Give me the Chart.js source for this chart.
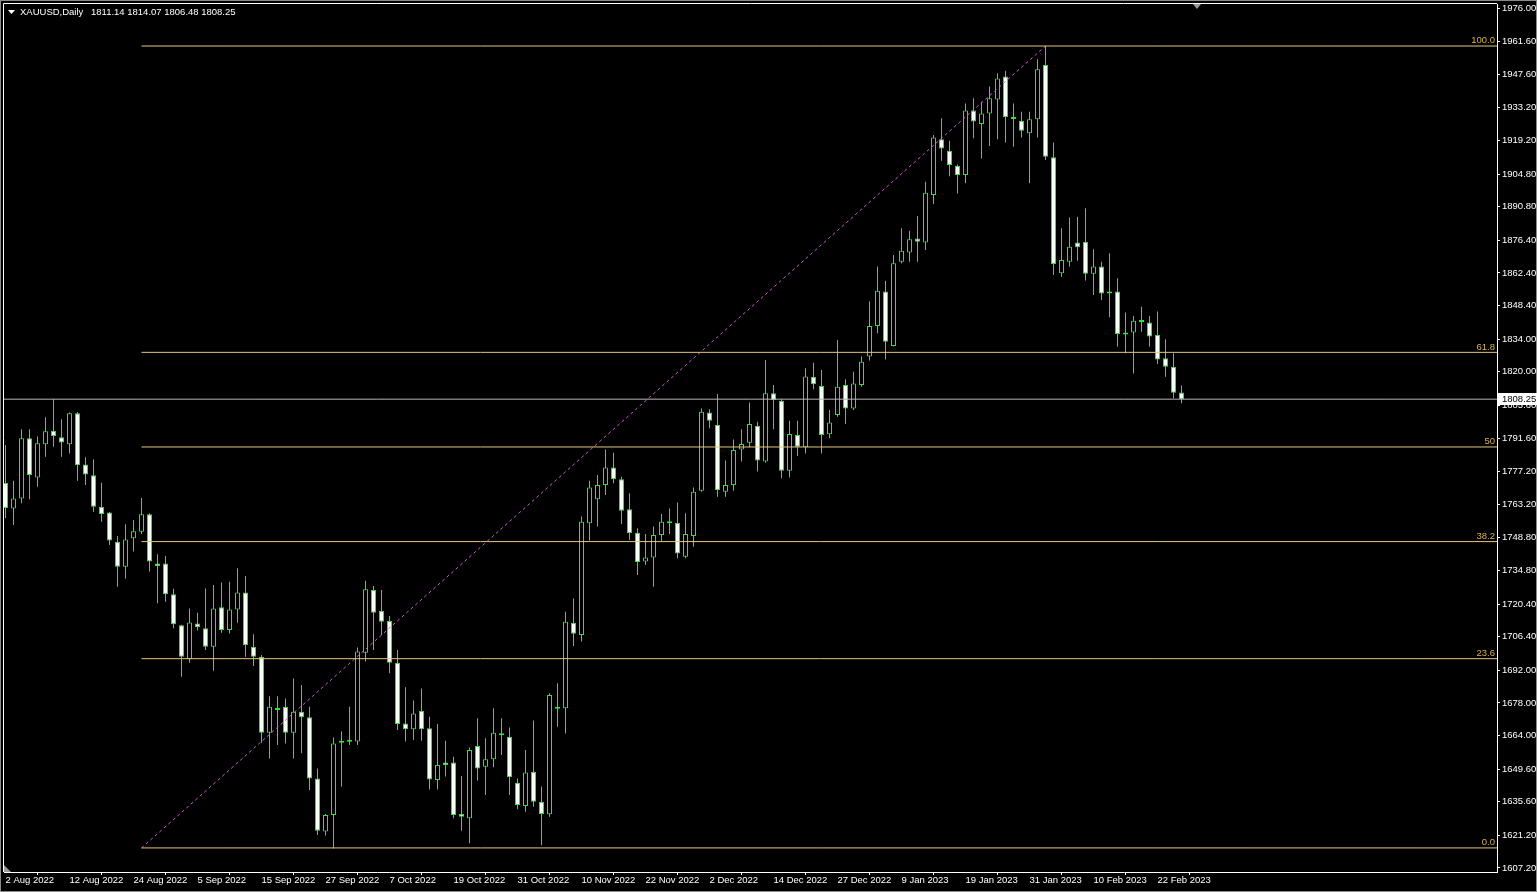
<!DOCTYPE html>
<html>
<head>
<meta charset="utf-8">
<script src="https://cdn.jsdelivr.net/npm/chart.js@4.4.0/dist/chart.umd.min.js"></script>
<style>
html,body{margin:0;padding:0;background:#000;overflow:hidden}
#wrap{width:1537px;height:892px}
</style>
</head>
<body>
<div id="wrap"><canvas id="price_chart" width="1537" height="892"></canvas></div>
<script>

// XAUUSD daily bars, 2 Aug 2022 .. 27 Feb 2023 (index = bar number)
let open_p=[
1772.3,1761.4,1765.7,1791.5,1774.7,1788.9,1794.7,1791.9,1788.9,1802.2,
1780.2,1775.6,1762.1,1759.6,1747.1,1736.4,1748.6,1751.4,1758.9,1737.8,
1737.8,1724.6,1711.3,1696.7,1712.1,1710.0,1702.1,1719.0,1709.3,1718.1,
1725.3,1702.1,1697.8,1665.2,1675.7,1676.4,1665.2,1674.2,1671.8,1645.6,
1622.8,1629.9,1660.9,1661.3,1661.4,1699.5,1726.4,1717.5,1713.1,1695.2,
1669.2,1666.7,1674.5,1667.1,1644.9,1652.4,1652.4,1630.4,1628.5,1659.5,
1650.6,1653.8,1664.4,1663.5,1643.8,1633.8,1648.5,1635.6,1630.2,1675.7,
1675.7,1712.4,1707.1,1755.0,1765.3,1771.4,1779.0,1773.9,1761.0,1751.0,
1738.6,1740.4,1750.0,1755.0,1755.3,1740.7,1749.6,1769.0,1802.5,1797.2,
1768.6,1771.4,1786.7,1789.6,1796.8,1781.5,1810.8,1807.6,1777.6,1792.9,
1787.6,1817.9,1813.9,1793.2,1801.5,1814.3,1804.3,1814.3,1826.5,1839.6,
1854.4,1831.1,1867.2,1871.1,1877.2,1875.4,1895.8,1919.7,1914.8,1908.4,
1904.4,1932.0,1926.3,1930.8,1936.8,1946.6,1928.6,1927.7,1922.3,1928.3,
1951.6,1912.0,1862.2,1867.2,1875.4,1875.8,1862.0,1865.1,1854.4,1854.4,
1836.3,1836.8,1841.5,1841.1,1835.8,1825.8,1822.2,1811.14];

let high_p=[
1788.6,1773.3,1795.3,1795.3,1792.2,1800.5,1808.2,1799.6,1802.5,1802.7,
1783.3,1782.4,1772.4,1759.9,1749.6,1754.6,1756.4,1765.9,1759.3,1741.8,
1741.0,1727.0,1711.5,1718.5,1716.7,1727.1,1728.6,1729.6,1730.0,1735.7,
1732.4,1707.4,1698.5,1680.9,1680.9,1679.9,1688.5,1685.7,1676.4,1649.9,
1630.3,1663.2,1665.7,1676.4,1701.8,1730.4,1728.1,1726.4,1715.3,1700.7,
1684.7,1679.0,1684.2,1672.1,1668.9,1661.8,1654.9,1646.7,1658.9,1671.4,
1662.8,1675.7,1671.4,1667.5,1645.6,1657.8,1670.4,1642.1,1682.1,1686.4,
1717.1,1722.8,1757.9,1773.3,1775.7,1786.7,1785.3,1775.0,1767.9,1752.9,
1750.4,1753.6,1759.0,1761.4,1763.9,1759.3,1770.4,1804.3,1803.9,1810.5,
1781.9,1791.0,1795.3,1806.8,1798.6,1825.0,1814.3,1808.2,1799.0,1799.0,
1821.5,1823.9,1820.8,1803.6,1833.6,1816.8,1820.0,1826.5,1850.1,1865.1,
1859.0,1870.1,1881.5,1880.5,1886.8,1901.5,1921.5,1928.7,1919.1,1908.9,
1935.1,1937.3,1935.8,1942.3,1948.0,1949.1,1935.1,1931.5,1931.5,1954.0,
1959.7,1918.3,1881.5,1886.2,1886.5,1890.1,1872.5,1867.2,1870.8,1860.1,
1845.4,1843.9,1847.9,1843.9,1845.8,1833.9,1827.9,1814.07];

let low_p=[
1757.3,1754.3,1763.6,1765.3,1770.7,1783.6,1787.9,1783.6,1785.0,1773.3,
1771.4,1760.0,1755.7,1745.7,1727.8,1731.4,1742.9,1750.4,1734.3,1720.7,
1721.4,1710.0,1689.2,1695.2,1709.0,1700.7,1691.8,1708.1,1707.8,1712.4,
1697.8,1693.8,1660.9,1654.2,1659.9,1660.6,1654.2,1656.4,1640.6,1621.3,
1621.1,1615.6,1642.1,1659.9,1659.9,1695.7,1700.7,1707.1,1690.7,1666.4,
1661.4,1662.1,1661.8,1640.9,1640.9,1646.4,1628.5,1623.2,1617.8,1644.7,
1638.5,1650.4,1655.7,1638.5,1632.4,1631.3,1633.5,1617.0,1629.2,1667.8,
1664.9,1702.4,1704.3,1747.6,1753.6,1767.2,1772.2,1754.7,1747.9,1732.8,
1737.1,1727.8,1747.1,1750.4,1740.0,1740.0,1745.0,1768.6,1795.8,1766.4,
1766.4,1769.0,1781.5,1787.6,1777.2,1781.0,1795.3,1774.3,1774.7,1783.9,
1785.0,1812.5,1785.0,1791.5,1800.7,1797.6,1803.6,1813.6,1824.8,1836.5,
1825.3,1830.8,1866.5,1867.2,1867.2,1872.2,1891.9,1910.5,1903.9,1896.5,
1900.8,1920.1,1911.5,1916.8,1919.7,1918.3,1916.5,1920.5,1900.8,1920.5,
1910.8,1861.5,1860.8,1865.1,1867.6,1859.1,1852.9,1850.8,1843.4,1830.8,
1827.9,1819.3,1837.2,1830.8,1823.3,1817.9,1808.6,1806.48];

let close_p=[
1761.6,1765.7,1791.5,1775.7,1789.3,1794.5,1792.5,1789.7,1802.2,1779.9,
1776.0,1762.1,1759.0,1747.6,1736.4,1748.1,1751.6,1758.9,1738.6,1736.7,
1724.6,1711.7,1697.8,1712.5,1710.4,1702.1,1718.5,1709.3,1718.1,1725.3,
1702.7,1697.8,1665.2,1676.4,1675.0,1665.2,1674.2,1671.8,1645.6,1623.2,
1629.9,1660.6,1661.2,1661.6,1700.0,1726.7,1716.7,1712.8,1695.2,1668.9,
1666.7,1673.5,1666.7,1645.2,1651.4,1651.4,1629.9,1629.2,1657.8,1649.9,
1653.8,1665.2,1664.1,1646.1,1634.2,1648.1,1635.6,1630.3,1681.4,1675.5,
1712.8,1707.6,1755.7,1770.4,1771.4,1779.0,1773.9,1760.4,1750.7,1738.4,
1740.4,1750.0,1755.7,1755.2,1742.1,1750.4,1768.6,1802.9,1799.0,1769.3,
1771.4,1786.5,1789.0,1797.6,1781.9,1810.8,1807.9,1777.6,1793.3,1787.9,
1818.0,1814.6,1792.9,1798.2,1813.6,1804.3,1815.0,1824.3,1839.6,1854.8,
1832.9,1866.5,1871.9,1876.8,1875.8,1896.8,1920.5,1915.8,1908.7,1904.4,
1932.0,1927.3,1930.8,1937.3,1945.8,1929.1,1928.4,1923.4,1928.3,1949.7,
1912.2,1866.2,1867.9,1873.6,1873.4,1862.0,1865.1,1853.6,1853.6,1836.2,
1836.0,1841.9,1841.3,1835.1,1825.3,1822.2,1811.0,1808.25];

// time axis labels, one every 8 bars
let date_labels=["2 Aug 2022","12 Aug 2022","24 Aug 2022","5 Sep 2022","15 Sep 2022","27 Sep 2022",
"7 Oct 2022","19 Oct 2022","31 Oct 2022","10 Nov 2022","22 Nov 2022","2 Dec 2022","14 Dec 2022",
"27 Dec 2022","9 Jan 2023","19 Jan 2023","31 Jan 2023","10 Feb 2023","22 Feb 2023"];
let label_step=8;

// price axis labels
let price_ticks=[1976.00,1961.60,1947.60,1933.20,1919.20,1904.80,1890.80,1876.40,1862.40,1848.40,
1834.00,1820.00,1805.60,1791.60,1777.20,1763.20,1748.80,1734.80,1720.40,1706.40,1692.00,
1678.00,1664.00,1649.60,1635.60,1621.20,1607.20];

// fibonacci retracement object
let fib_levels=[0,23.6,38.2,50,61.8,100];
let fib_names=["0.0","23.6","38.2","50","61.8","100.0"];
let fib_start=17;
let fib_end=130;
let fib_low=1615.8;
let fib_high=1959.7;

let symbol="XAUUSD,Daily";

const x_min=-0.1875;
const x_max=186.4375;
const green='#2ee82e';
const gold='#e2c67e';
const font_fam='"Liberation Sans", Arial, sans-serif';

let wicks=[];
let bodies=[];
let body_fill=[];
for(let i=0;i<open_p.length;i++){
    wicks.push({x:i,y:[low_p[i],high_p[i]]});
    bodies.push({x:i,y:[open_p[i],close_p[i]]});
    body_fill.push(close_p[i]>=open_p[i] ? '#000000' : '#f4fff4');
}

let line_sets=[];
for(let k=0;k<fib_levels.length;k++){
    let lv=fib_low+(fib_high-fib_low)*fib_levels[k]/100;
    line_sets.push({
        type:'line',
        data:[{x:fib_start,y:lv},{x:x_max,y:lv}],
        borderColor:gold,
        borderWidth:1,
        pointRadius:0,
        order:0
    });
}
// trend line of the fib object
line_sets.push({
    type:'line',
    data:[{x:fib_start,y:fib_low},{x:fib_end,y:fib_high}],
    borderColor:'#c860d0',
    borderWidth:1,
    borderDash:[3,3],
    pointRadius:0,
    order:0
});
// bid line
let last=close_p.length-1;
line_sets.push({
    type:'line',
    data:[{x:x_min,y:close_p[last]},{x:x_max,y:close_p[last]}],
    borderColor:'#b8b8b8',
    borderWidth:1,
    pointRadius:0,
    order:0
});

const overlay={
    id:'overlay',
    beforeDraw(chart){
        const c=chart.ctx;
        c.save();
        c.fillStyle='#000';
        c.fillRect(0,0,chart.width,chart.height);
        c.restore();
    },
    afterDraw(chart){
        const c=chart.ctx;
        const a=chart.chartArea;
        const ys=chart.scales.y;
        c.save();

        // frame
        c.strokeStyle='#8a8a8a';
        c.lineWidth=1;
        c.strokeRect(0.5,0.5,chart.width-1,chart.height-1);
        c.strokeStyle='#ffffff';
        c.beginPath();
        c.moveTo(a.left-0.5,a.bottom);
        c.lineTo(a.left-0.5,a.top-0.5);
        c.lineTo(a.right,a.top-0.5);
        c.stroke();

        // fib level captions
        c.font='9.5px '+font_fam;
        c.fillStyle='#d8b050';
        c.textAlign='right';
        c.textBaseline='bottom';
        for(let k=0;k<fib_levels.length;k++){
            let lv=fib_low+(fib_high-fib_low)*fib_levels[k]/100;
            c.fillText(fib_names[k],a.right-2,ys.getPixelForValue(lv)-0.5);
        }

        // header
        c.fillStyle='#ffffff';
        c.beginPath();
        c.moveTo(8,10);c.lineTo(15,10);c.lineTo(11.5,14);c.closePath();
        c.fill();
        c.textAlign='left';
        c.textBaseline='middle';
        c.font='9.5px '+font_fam;
        c.fillText(symbol,20,12);
        c.fillText([open_p[last],high_p[last],low_p[last],close_p[last]].map(v=>v.toFixed(2)).join(' '),91,12);

        // bid price box
        let py=Math.round(ys.getPixelForValue(close_p[last]));
        c.fillStyle='#ffffff';
        c.fillRect(a.right+1,py-6,chart.width-a.right-1,12);
        c.fillStyle='#000000';
        c.fillText(close_p[last].toFixed(2),a.right+5,py);

        // chart shift markers
        c.fillStyle='#9a9a9a';
        c.beginPath();
        c.moveTo(1193,a.top);c.lineTo(1201,a.top);c.lineTo(1197,a.top+5);c.closePath();
        c.fill();
        c.beginPath();
        c.moveTo(a.left,a.bottom-7);c.lineTo(a.left,a.bottom);c.lineTo(a.left+7,a.bottom);c.closePath();
        c.fill();
        c.restore();
    }
};

new Chart(document.getElementById('price_chart'),{
    type:'bar',
    data:{
        datasets:[
            ...line_sets,
            {
                label:'bodies',
                data:bodies,
                backgroundColor:body_fill,
                borderColor:green,
                borderWidth:1,
                borderSkipped:false,
                barThickness:5,
                minBarLength:2,
                grouped:false,
                inflateAmount:0,
                order:1
            },
            {
                label:'wicks',
                data:wicks,
                backgroundColor:green,
                borderWidth:0,
                barThickness:1,
                grouped:false,
                inflateAmount:0,
                order:2
            }
        ]
    },
    options:{
        responsive:false,
        animation:false,
        events:[],
        layout:{padding:{left:4,top:4,right:0,bottom:0}},
        plugins:{legend:{display:false},tooltip:{enabled:false}},
        scales:{
            x:{
                type:'linear',
                min:x_min,
                max:x_max,
                offset:false,
                grid:{drawOnChartArea:false,drawTicks:true,tickLength:3,color:'#ffffff'},
                border:{display:true,color:'#ffffff'},
                ticks:{
                    color:'#ffffff',
                    font:{family:font_fam,size:9.5,lineHeight:1},
                    align:'start',
                    autoSkip:false,
                    maxRotation:0,
                    minRotation:0,
                    padding:1,
                    callback:(v)=>date_labels[Math.round(v/label_step)]
                },
                afterBuildTicks:(s)=>{
                    s.ticks=date_labels.map((d,k)=>({value:k*label_step}));
                },
                afterFit:(s)=>{
                    s.height=20;
                    s.paddingLeft=0;
                    s.paddingRight=0;
                }
            },
            y:{
                type:'linear',
                position:'right',
                min:1605.48,
                max:1977.72,
                grid:{drawOnChartArea:false,drawTicks:true,tickLength:3,color:'#ffffff'},
                border:{display:true,color:'#ffffff'},
                ticks:{
                    color:'#ffffff',
                    font:{family:font_fam,size:9.5},
                    padding:2,
                    autoSkip:false,
                    callback:(v)=>Number(v).toFixed(2)
                },
                afterBuildTicks:(s)=>{
                    s.ticks=price_ticks.map(v=>({value:v}));
                },
                afterFit:(s)=>{
                    s.width=40;
                    s.paddingTop=0;
                    s.paddingBottom=0;
                }
            }
        }
    },
    plugins:[overlay]
});

</script>
</body>
</html>
